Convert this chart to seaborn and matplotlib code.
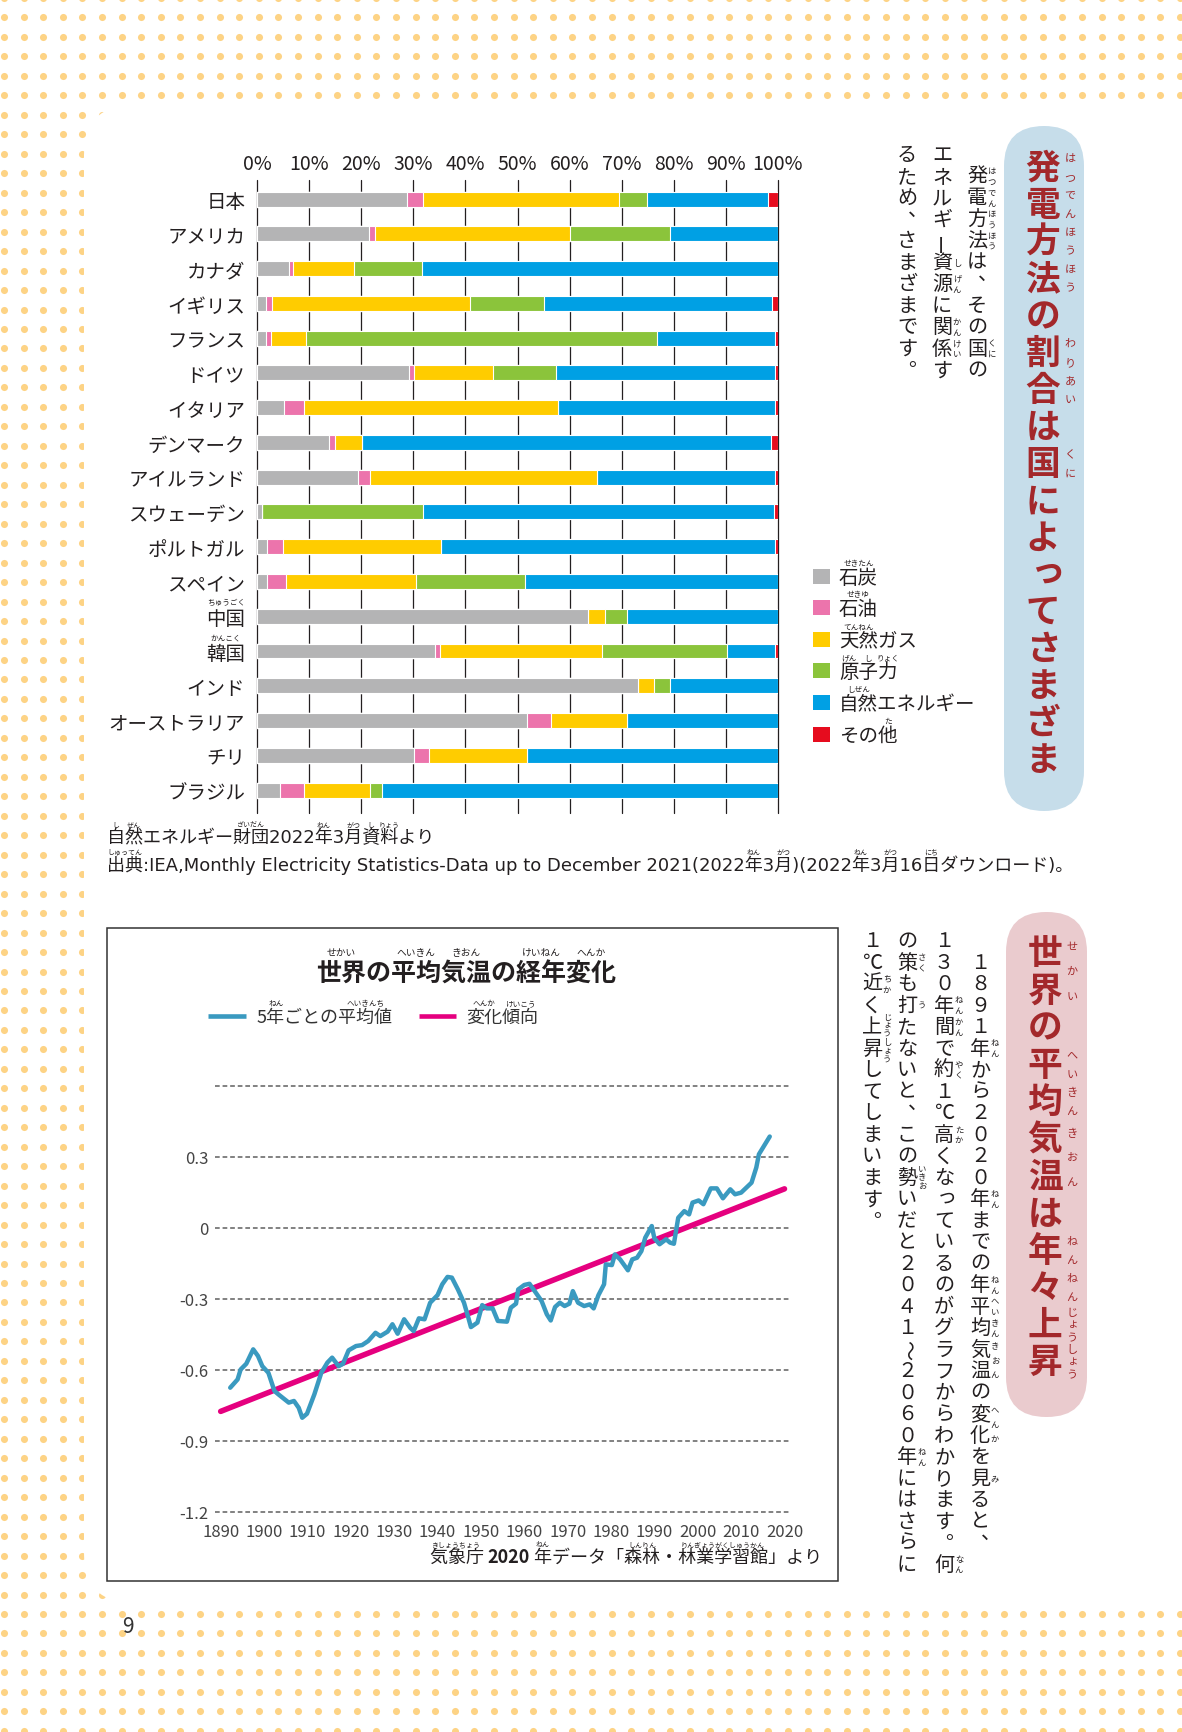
import numpy as np
import pandas as pd
import matplotlib
matplotlib.use("Agg")
import matplotlib.pyplot as plt
from matplotlib.patches import FancyBboxPatch, Rectangle
import seaborn as sns

# ---- 発電方法の割合 (%) ----
countries = ["日本", "アメリカ", "カナダ", "イギリス", "フランス", "ドイツ", "イタリア",
             "デンマーク", "アイルランド", "スウェーデン", "ポルトガル", "スペイン",
             "中国", "韓国", "インド", "オーストラリア", "チリ", "ブラジル"]
coal    = [28.8, 21.5, 6.2, 1.7, 1.7, 29.2, 5.1, 13.8, 19.4, 1.0, 1.9, 1.9, 63.5, 34.2, 73.1, 51.9, 30.1, 4.5]
oil     = [3.0, 1.1, 0.7, 1.1, 1.0, 0.9, 4.0, 1.1, 2.2, 0.0, 3.0, 3.7, 0.0, 1.0, 0.0, 4.6, 3.0, 4.6]
gas     = [37.7, 37.5, 11.8, 38.0, 6.7, 15.2, 48.7, 5.2, 43.7, 0.0, 30.4, 25.0, 3.3, 31.1, 3.1, 14.6, 18.7, 12.6]
nuclear = [5.3, 19.2, 13.0, 14.3, 67.3, 12.1, 0.0, 0.0, 0.0, 30.8, 0.0, 20.8, 4.2, 24.0, 3.1, 0.0, 0.0, 2.2]
renew   = [23.2, 20.7, 68.3, 43.7, 22.8, 42.1, 41.6, 78.6, 34.1, 67.4, 64.1, 48.6, 29.0, 9.2, 20.7, 28.9, 48.2, 76.1]
other   = [2.0, 0.0, 0.0, 1.2, 0.5, 0.5, 0.6, 1.3, 0.6, 0.8, 0.6, 0.0, 0.0, 0.5, 0.0, 0.0, 0.0, 0.0]
sources = ["石炭", "石油", "天然ガス", "原子力", "自然エネルギー", "その他"]
source_colors = ["#B4B4B5", "#EC74AC", "#FFCC00", "#8BC43B", "#00A0E4", "#E60C1E"]
pct_ticks = list(range(0, 101, 10))

# ---- 世界の平均気温 (5年平均, 偏差 ℃) ----
temp_years = [1892.2, 1893.9, 1894.6, 1895.9, 1897.5, 1898.6, 1899.6, 1901.0, 1902.4, 1903.3,
              1905.7, 1906.9, 1908.0, 1908.8, 1909.9, 1911.6, 1913.2, 1914.6, 1915.7, 1917.2,
              1918.2, 1919.5, 1921.2, 1922.6, 1924.0, 1925.7, 1926.8, 1928.5, 1929.6, 1930.8,
              1932.3, 1933.7, 1934.5, 1935.7, 1937.0, 1938.3, 1940.0, 1941.1, 1942.3, 1943.3,
              1944.7, 1946.1, 1947.1, 1947.7, 1949.2, 1950.3, 1951.3, 1952.7, 1953.9, 1956.0,
              1956.9, 1958.1, 1958.6, 1960.0, 1961.2, 1962.4, 1964.0, 1965.2, 1966.1, 1967.1,
              1968.2, 1969.3, 1970.4, 1971.2, 1972.4, 1973.8, 1975.1, 1976.0, 1977.1, 1978.4,
              1978.8, 1980.2, 1980.9, 1982.1, 1983.9, 1984.9, 1986.0, 1987.0, 1987.9, 1989.4,
              1990.0, 1991.2, 1992.7, 1993.6, 1994.5, 1995.5, 1996.9, 1998.0, 1998.8, 2000.2,
              2001.3, 2003.0, 2004.4, 2005.8, 2007.5, 2008.6, 2010.0, 2012.4, 2013.5, 2014.1,
              2015.4, 2016.6]
temp_5yr = [-0.676, -0.641, -0.599, -0.575, -0.514, -0.542, -0.585, -0.613, -0.690, -0.704,
            -0.739, -0.732, -0.761, -0.803, -0.786, -0.704, -0.613, -0.570, -0.549, -0.585,
            -0.575, -0.518, -0.500, -0.496, -0.479, -0.444, -0.458, -0.439, -0.408, -0.448,
            -0.387, -0.423, -0.437, -0.383, -0.387, -0.317, -0.285, -0.239, -0.208, -0.211,
            -0.261, -0.317, -0.380, -0.420, -0.401, -0.327, -0.341, -0.341, -0.394, -0.397,
            -0.338, -0.321, -0.261, -0.242, -0.237, -0.268, -0.310, -0.366, -0.392, -0.335,
            -0.317, -0.331, -0.321, -0.268, -0.317, -0.331, -0.324, -0.341, -0.285, -0.239,
            -0.155, -0.158, -0.113, -0.134, -0.180, -0.134, -0.127, -0.099, -0.042, 0.007,
            -0.045, -0.070, -0.049, -0.063, -0.068, 0.042, 0.070, 0.056, 0.106, 0.115,
            0.099, 0.166, 0.166, 0.124, 0.162, 0.141, 0.148, 0.190, 0.254, 0.310,
            0.349, 0.385]
trend_years = [1890, 2020]
trend_vals = [-0.776, 0.164]
temp_ticks = [-1.2, -0.9, -0.6, -0.3, 0, 0.3]
temp_tick_labels = ["-1.2", "-0.9", "-0.6", "-0.3", "0", "0.3"]
temp_grid = [-1.2, -0.9, -0.6, -0.3, 0, 0.3, 0.6]
year_ticks = list(range(1890, 2021, 10))

INK = "#231F20"
TITLE_RED = "#A3282B"
DOT = "#FDD385"
LINE_BLUE = "#3A9AC0"
LINE_PINK = "#E5007F"
JP = ["Noto Sans CJK JP", "DejaVu Sans"]
WIDE = ["DejaVu Sans", "Noto Sans CJK JP"]   # 出典の欧文は幅広

sns.set_theme(style="white")
plt.rcParams["font.family"] = JP

W, H = 1182, 1733
fig = plt.figure(figsize=(W / 100, H / 100), dpi=100)
bg = fig.add_axes([0, 0, 1, 1])
bg.set_xlim(0, W)
bg.set_ylim(H, 0)
bg.axis("off")
R = fig.canvas.get_renderer()


def px_axes(x0, y0, x1, y1):
    return fig.add_axes([x0 / W, 1 - y1 / H, (x1 - x0) / W, (y1 - y0) / H])


def tw(s, size, weight="normal", family=None):
    if not s:
        return 0.0
    t = bg.text(0, 0, s, fontsize=size, fontweight=weight, family=family or JP)
    w = t.get_window_extent(renderer=R).width
    t.remove()
    return w


SMALL = set("ぁぃぅぇぉっゃゅょゎァィゥェォッャュョヮ")


def vtext(x, y0, s, pitch, size, color=INK, weight="normal"):
    em = size * 100 / 72
    for i, ch in enumerate(s):
        if ch == "　":
            continue
        cx, cy, rot = x, y0 + pitch * (i + 0.5), 0
        if ch == "ー":
            rot = 90
        elif ch == "～":
            rot = -90
        elif ch in "、。":
            cx += 0.55 * em
            cy -= 0.5 * em
        elif ch in SMALL:
            cx += 0.12 * em
            cy -= 0.12 * em
        bg.text(cx, cy, ch, ha="center", va="center", rotation=rot,
                fontsize=size, color=color, fontweight=weight)


def vruby(x, y0, pitch, spans, size, color=INK, dx=15):
    em = size * 100 / 72
    for i0, i1, reading in spans:
        span = pitch * (i1 - i0 + 1)
        n = len(reading)
        rp = max(em * 1.02, span / n)
        top = y0 + pitch * (i0 + i1 + 1) / 2 - rp * n / 2
        for j, ch in enumerate(reading):
            cx, cy = x + dx, top + rp * (j + 0.5)
            if ch in SMALL:
                cx += 0.12 * em
                cy -= 0.12 * em
            bg.text(cx, cy, ch, ha="center", va="center", fontsize=size, color=color)


def hruby(x_left, y, s, size, spans, rsize, dy, weight="normal", color=INK, family=None):
    for i0, i1, reading in spans:
        a = x_left + tw(s[:i0], size, weight, family)
        b = x_left + tw(s[:i1 + 1], size, weight, family)
        bg.text((a + b) / 2, y - dy, reading, ha="center", va="center",
                fontsize=rsize, color=color)


# ---- page background ----
gx, gy = np.meshgrid(np.arange(4, W + 10, 19.6), np.arange(-1, H + 10, 19.47))
bg.scatter(gx.ravel(), gy.ravel(), s=26, color=DOT, linewidths=0, zorder=0)
bg.add_patch(FancyBboxPatch((84, 106), 1200, 1498, boxstyle="round,pad=0,rounding_size=50",
                            fc="white", ec="none", zorder=1))
bg.text(128, 1627, "9", ha="center", va="center", fontsize=15, color="#333", zorder=3)

# ---- 発電方法: stacked bars ----
df = pd.DataFrame({"country": countries, "石炭": coal, "石油": oil, "天然ガス": gas,
                   "原子力": nuclear, "自然エネルギー": renew, "その他": other})
cum = df[sources].cumsum(axis=1)

ax1 = px_axes(257, 181, 778, 814)
ax1.set_facecolor("none")
for src, col in reversed(list(zip(sources, source_colors))):
    sns.barplot(x=cum[src], y=df["country"], color=col, orient="h", width=0.43,
                saturation=1, errorbar=None, edgecolor="white", linewidth=0.8,
                ax=ax1, zorder=2)
ax1.set_xlim(0, 100)
ax1.set_ylim(17.66, -0.55)
for v in pct_ticks:
    ax1.axvline(v, color=INK, lw=0.9, zorder=0, clip_on=False)
ax1.xaxis.tick_top()
ax1.set_xticks(pct_ticks)
ax1.set_xticklabels([f"{v}%" for v in pct_ticks])
ax1.tick_params(axis="x", length=0, pad=4, labelsize=14, colors=INK)
ax1.tick_params(axis="y", length=0, pad=8.5, labelsize=14, colors=INK)
ax1.set_xlabel("")
ax1.set_ylabel("")
for s in ax1.spines.values():
    s.set_visible(False)

fig.canvas.draw()
label_right = 257 - 8.5 * 100 / 72
for name, reading in [("中国", "ちゅうごく"), ("韓国", "かんこく")]:
    i = countries.index(name)
    yy = H - ax1.transData.transform((0, i))[1]
    wl = tw(name, 14)
    bg.text(label_right - wl / 2, yy - 14, reading, ha="center", va="center",
            fontsize=5.5, color=INK)

# legend
legend_ruby = [[(0, 1, "せきたん")], [(0, 1, "せきゆ")], [(0, 1, "てんねん")],
               [(0, 0, "げん"), (1, 1, "し"), (2, 2, "りょく")], [(0, 1, "しぜん")],
               [(2, 2, "た")]]
for i, (src, col) in enumerate(zip(sources, source_colors)):
    y = 577 + 31.6 * i
    bg.add_patch(Rectangle((813, y - 7.5), 17, 15, fc=col, ec="none", zorder=2))
    bg.text(839, y + 1, src, ha="left", va="center", fontsize=14, color=INK, zorder=2)
    hruby(839, y + 1, src, 14, legend_ruby[i], 5.5, 14)

# sources under the bar chart
s1 = "自然エネルギー財団2022年3月資料より"
bg.text(107, 838, s1, ha="left", va="center", fontsize=13, color=INK, family=WIDE)
hruby(107, 838, s1, 13, [(0, 0, "し"), (1, 1, "ぜん"), (7, 8, "ざいだん"), (13, 13, "ねん"),
                         (15, 15, "がつ"), (16, 16, "し"), (17, 17, "りょう")], 5, 12.5,
      family=WIDE)
s2 = ("出典:IEA,Monthly Electricity Statistics-Data up to December 2021"
      "(2022年3月)(2022年3月16日ダウンロード)。")
bg.text(107, 865, s2, ha="left", va="center", fontsize=13, color=INK, family=WIDE)
read = {"年": "ねん", "月": "がつ", "日": "にち"}
sp2 = [(0, 1, "しゅってん")] + [(i, i, read[c]) for i, c in enumerate(s2) if c in read]
hruby(107, 865, s2, 13, sp2, 5, 12.5, family=WIDE)

# title pill 1 + body
bg.add_patch(FancyBboxPatch((1004, 127), 80, 685, boxstyle="round,pad=0,rounding_size=40",
                            fc="#C6DDEA", ec="none", zorder=1))
t1 = "発電方法の割合は国によってさまざま"
vtext(1043, 150, t1, 37, 25, color=TITLE_RED, weight="bold")
vruby(1043, 150, 37, [(0, 3, "はつでんほうほう"), (5, 6, "わりあい"), (8, 8, "くに")],
      8, color=TITLE_RED, dx=27)

body1 = ["　発電方法は、その国の", "エネルギー資源に関係す", "るため、さまざまです。"]
body1_x = [977, 942, 907]
body1_ruby = [[(1, 4, "はつでんほうほう"), (9, 9, "くに")],
              [(5, 5, "し"), (6, 6, "げん"), (8, 9, "かんけい")], []]
for s, x, rb in zip(body1, body1_x, body1_ruby):
    vtext(x, 145, s, 21.5, 14.5)
    vruby(x, 145, 21.5, rb, 6)

# ---- 世界の平均気温 ----
bg.add_patch(Rectangle((107, 929), 731, 653, fc="white", ec="#333", lw=1.1, zorder=2))
ct = "世界の平均気温の経年変化"
bg.text(466, 975, ct, ha="center", va="center", fontsize=18, fontweight="bold",
        color=INK, zorder=3)
hruby(466 - tw(ct, 18, "bold") / 2, 975, ct, 18,
      [(0, 1, "せかい"), (3, 4, "へいきん"), (5, 6, "きおん"), (8, 9, "けいねん"), (10, 11, "へんか")],
      7, 22, weight="bold")

bg.plot([208, 246], [1017, 1017], color=LINE_BLUE, lw=3.3, solid_capstyle="butt", zorder=3)
l1 = "5年ごとの平均値"
bg.text(257, 1018, l1, ha="left", va="center", fontsize=13, color="#333", zorder=3)
hruby(257, 1018, l1, 13, [(1, 1, "ねん"), (5, 7, "へいきんち")], 5.5, 14)
bg.plot([419, 456], [1017, 1017], color=LINE_PINK, lw=3.3, solid_capstyle="butt", zorder=3)
l2 = "変化傾向"
bg.text(466, 1018, l2, ha="left", va="center", fontsize=13, color="#333", zorder=3)
hruby(466, 1018, l2, 13, [(0, 1, "へんか"), (2, 3, "けいこう")], 5.5, 14)

ax2 = px_axes(215, 1080, 790, 1520)
ax2.set_facecolor("none")
ax2.set_xlim(1888.69, 2021.27)
ax2.set_ylim(-1.2306, 0.628)
for v in temp_grid:
    ax2.axhline(v, color="#777777", lw=1.3, ls=(0, (2.6, 1.6)), zorder=0)
sns.lineplot(x=trend_years, y=trend_vals, color=LINE_PINK, lw=4.0, ax=ax2, zorder=2)
sns.lineplot(x=temp_years, y=temp_5yr, color=LINE_BLUE, lw=3.2, sort=False, ax=ax2, zorder=3)
ax2.set_yticks(temp_ticks)
ax2.set_yticklabels(temp_tick_labels)
ax2.set_xticks(year_ticks)
ax2.set_xticklabels([str(y) for y in year_ticks])
ax2.tick_params(axis="y", length=0, pad=5, labelsize=12, colors="#444")
ax2.tick_params(axis="x", length=0, pad=3, labelsize=12, colors="#444")
ax2.set_xlabel("")
ax2.set_ylabel("")
for s in ax2.spines.values():
    s.set_visible(False)

# source under the line chart
p1, p2, p3 = "気象庁 ", "2020", " 年データ「森林・林業学習館」より"
w3, w2, w1 = tw(p3, 13), tw(p2, 13, "bold"), tw(p1, 13)
sx, sy = 822, 1558
bg.text(sx, sy, p3, ha="right", va="center", fontsize=13, color=INK, zorder=3)
bg.text(sx - w3, sy, p2, ha="right", va="center", fontsize=13, fontweight="bold", color=INK, zorder=3)
bg.text(sx - w3 - w2, sy, p1, ha="right", va="center", fontsize=13, color=INK, zorder=3)
hruby(sx - w3 - w2 - w1, sy, p1, 13, [(0, 2, "きしょうちょう")], 5, 13)
hruby(sx - w3, sy, p3, 13, [(1, 1, "ねん"), (6, 7, "しんりん"), (9, 13, "りんぎょうがくしゅうかん")], 5, 13)

# title pill 2 + body
bg.add_patch(FancyBboxPatch((1006, 913), 81, 505, boxstyle="round,pad=0,rounding_size=40",
                            fc="#EACBCE", ec="none", zorder=1))
t2 = "世界の平均気温は年々上昇"
vtext(1045, 935, t2, 37.2, 25, color=TITLE_RED, weight="bold")
vruby(1045, 935, 37.2, [(0, 1, "せかい"), (3, 4, "へいきん"), (5, 6, "きおん"),
                        (8, 9, "ねんねん"), (10, 11, "じょうしょう")], 8, color=TITLE_RED, dx=27)

body2 = ["　１８９１年から２０２０年までの年平均気温の変化を見ると、",
         "１３０年間で約１℃高くなっているのがグラフからわかります。何",
         "の策も打たないと、この勢いだと２０４１～２０６０年にはさらに",
         "１℃近く上昇してしまいます。"]
body2_x = [980, 944, 907, 872]
body2_ruby = [[(5, 5, "ねん"), (12, 12, "ねん"), (16, 16, "ねん"), (17, 18, "へいきん"),
               (19, 20, "きおん"), (22, 23, "へんか"), (25, 25, "み")],
              [(3, 4, "ねんかん"), (6, 6, "やく"), (9, 9, "たか"), (29, 29, "なん")],
              [(1, 1, "さく"), (3, 3, "う"), (11, 11, "いきお"), (24, 24, "ねん")],
              [(2, 2, "ちか"), (4, 5, "じょうしょう")]]
for s, x, rb in zip(body2, body2_x, body2_ruby):
    vtext(x, 931, s, 21.5, 14.5)
    vruby(x, 931, 21.5, rb, 6)

fig.savefig("out.png", dpi=100)
